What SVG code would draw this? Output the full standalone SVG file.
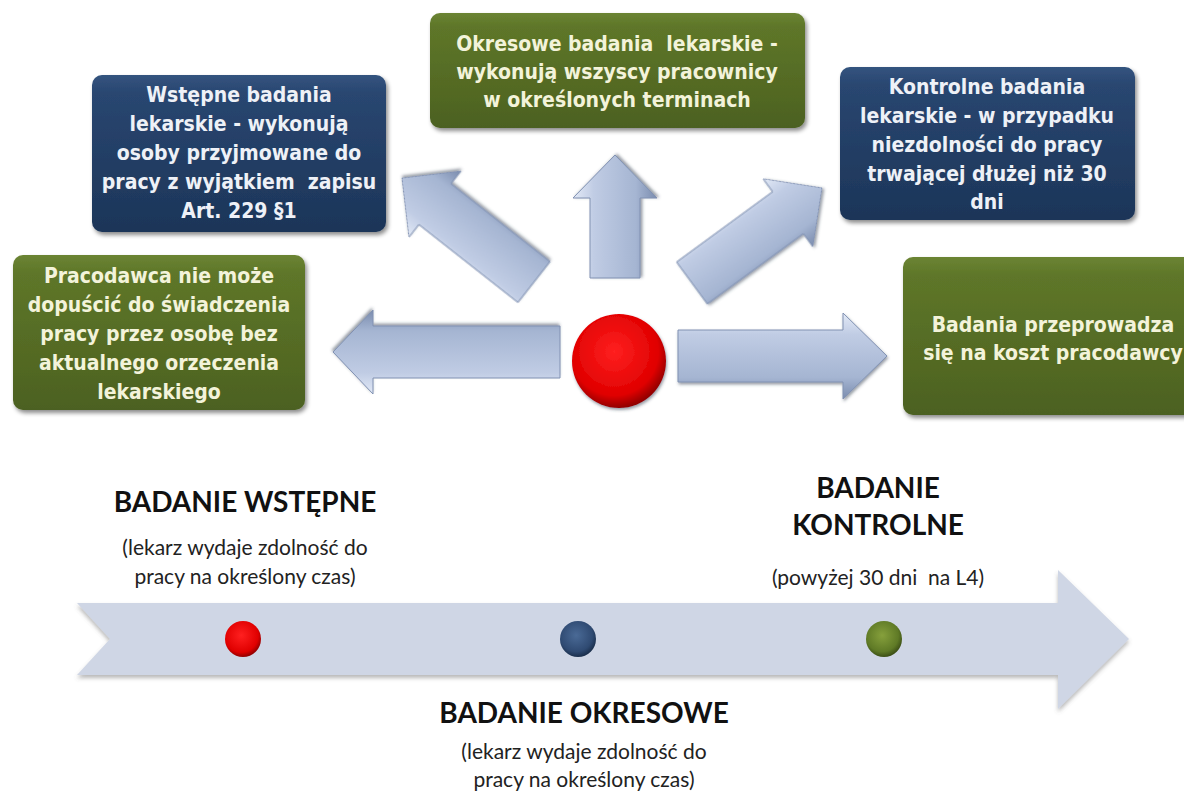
<svg xmlns="http://www.w3.org/2000/svg" width="1184" height="794" viewBox="0 0 1184 794">
<defs>
<linearGradient id="gGreen" x1="0" y1="0" x2="0" y2="1">
<stop offset="0" stop-color="#6b8433"/><stop offset="0.12" stop-color="#5e7629"/><stop offset="1" stop-color="#4c6120"/>
</linearGradient>
<linearGradient id="gBlue" x1="0" y1="0" x2="0" y2="1">
<stop offset="0" stop-color="#34547f"/><stop offset="0.12" stop-color="#294670"/><stop offset="1" stop-color="#1c3558"/>
</linearGradient>
<linearGradient id="gArrow" x1="0" y1="0" x2="0" y2="1">
<stop offset="0" stop-color="#e2e9f6"/><stop offset="0.25" stop-color="#c0cce4"/><stop offset="0.75" stop-color="#a5b5d2"/><stop offset="1" stop-color="#7a8cae"/>
</linearGradient>
<radialGradient id="gRed" cx="0.45" cy="0.4" r="0.6">
<stop offset="0" stop-color="#ff2020"/><stop offset="0.78" stop-color="#e00000"/><stop offset="1" stop-color="#920000"/>
</radialGradient>
<radialGradient id="gDotBlue" cx="0.45" cy="0.4" r="0.6">
<stop offset="0" stop-color="#4a6a96"/><stop offset="0.75" stop-color="#2f4a72"/><stop offset="1" stop-color="#1b2f4c"/>
</radialGradient>
<radialGradient id="gDotGreen" cx="0.45" cy="0.4" r="0.6">
<stop offset="0" stop-color="#86a03c"/><stop offset="0.75" stop-color="#5f7a26"/><stop offset="1" stop-color="#3c4f16"/>
</radialGradient>
<filter id="shadow" x="-10%" y="-10%" width="125%" height="130%">
<feDropShadow dx="2" dy="3" stdDeviation="2" flood-color="#000" flood-opacity="0.45"/>
</filter>
<filter id="ashadow" x="-10%" y="-20%" width="125%" height="150%">
<feDropShadow dx="1" dy="2" stdDeviation="1.5" flood-color="#303a50" flood-opacity="0.5"/>
</filter>
<filter id="tshadow" x="-5%" y="-10%" width="110%" height="130%">
<feDropShadow dx="0" dy="3" stdDeviation="2" flood-color="#606060" flood-opacity="0.45"/>
</filter>
</defs>
<style>
.box text{font-family:"DejaVu Sans Condensed","DejaVu Sans",sans-serif;font-weight:bold;font-size:21px;text-anchor:middle;white-space:pre}
.green rect{fill:url(#gGreen);filter:url(#shadow)}
.blue rect{fill:url(#gBlue);filter:url(#shadow)}
.green text{fill:#f3f3da}
.blue text{fill:#eef1f7}
.arrow{fill:url(#gArrow);stroke:#8091b2;stroke-width:1;filter:url(#ashadow)}
.h{font-family:Lato,"Liberation Sans",sans-serif;font-weight:bold;font-size:28px;fill:#111;text-anchor:middle}
.s{font-family:Lato,"Liberation Sans",sans-serif;font-size:21px;fill:#222;text-anchor:middle;white-space:pre}
</style>

<g id="connectors">
<path class="arrow" transform="translate(560,352) rotate(180)" d="M0,-26 L187,-26 L187,-42 L227,0 L187,42 L187,26 L0,26 Z"/>
<path class="arrow" transform="translate(534,282) rotate(218.2)" d="M0,-26 L126,-26 L126,-42 L168,0 L126,42 L126,26 L0,26 Z"/>
<path class="arrow" transform="translate(615,278) rotate(-90)" d="M0,-25 L80,-25 L80,-42 L123,0 L80,42 L80,25 L0,25 Z"/>
<path class="arrow" transform="translate(692,283) rotate(-36.2)" d="M0,-26 L119,-26 L119,-42 L161,0 L119,42 L119,26 L0,26 Z"/>
<path class="arrow" transform="translate(678,356) rotate(0)" d="M0,-26 L165,-26 L165,-43 L209,0 L165,43 L165,26 L0,26 Z"/>
</g>

<g id="center">
<circle cx="619" cy="361" r="47" fill="url(#gRed)" filter="url(#ashadow)"/>
</g>

<g id="okresowe" class="box green">
<rect x="430" y="13" width="375" height="115" rx="10"/>
<text x="617" y="51">Okresowe badania  lekarskie -</text>
<text x="617" y="79">wykonują wszyscy pracownicy</text>
<text x="617" y="107">w określonych terminach</text>
</g>

<g id="wstepne" class="box blue">
<rect x="92" y="75" width="294" height="157" rx="10"/>
<text x="239" y="102">Wstępne badania</text>
<text x="239" y="131">lekarskie - wykonują</text>
<text x="239" y="160">osoby przyjmowane do</text>
<text x="239" y="189">pracy z wyjątkiem  zapisu</text>
<text x="239" y="218">Art. 229 §1</text>
</g>

<g id="kontrolne" class="box blue">
<rect x="840" y="67" width="295" height="153" rx="10"/>
<text x="987" y="94">Kontrolne badania</text>
<text x="987" y="123">lekarskie - w przypadku</text>
<text x="987" y="152">niezdolności do pracy</text>
<text x="987" y="181">trwającej dłużej niż 30</text>
<text x="987" y="209">dni</text>
</g>

<g id="pracodawca" class="box green">
<rect x="13" y="255" width="292" height="155" rx="10"/>
<text x="159" y="283">Pracodawca nie może</text>
<text x="159" y="312">dopuścić do świadczenia</text>
<text x="159" y="341">pracy przez osobę bez</text>
<text x="159" y="370">aktualnego orzeczenia</text>
<text x="159" y="399">lekarskiego</text>
</g>

<g id="koszt" class="box green">
<rect x="903" y="257" width="300" height="158" rx="10"/>
<text x="1053" y="332">Badania przeprowadza</text>
<text x="1053" y="360">się na koszt pracodawcy</text>
</g>

<g id="timeline">
<path d="M77,603 L1058,603 L1058,570 L1129,639 L1058,709 L1058,675 L77,675 L110,639 Z" fill="#cfd6e5" filter="url(#tshadow)"/>
<circle cx="243" cy="639" r="18" fill="url(#gRed)"/>
<circle cx="578" cy="639" r="18" fill="url(#gDotBlue)"/>
<circle cx="884" cy="639" r="18" fill="url(#gDotGreen)"/>
</g>

<g id="wstepne-label">
<text class="h" x="245" y="512">BADANIE WSTĘPNE</text>
<text class="s" x="245" y="555">(lekarz wydaje zdolność do</text>
<text class="s" x="245" y="584">pracy na określony czas)</text>
</g>

<g id="kontrolne-label">
<text class="h" x="878" y="498">BADANIE</text>
<text class="h" x="878" y="535">KONTROLNE</text>
<text class="s" x="878" y="585">(powyżej 30 dni  na L4)</text>
</g>

<g id="okresowe-label">
<text class="h" x="584" y="723">BADANIE OKRESOWE</text>
<text class="s" x="584" y="759">(lekarz wydaje zdolność do</text>
<text class="s" x="584" y="787">pracy na określony czas)</text>
</g>
</svg>
